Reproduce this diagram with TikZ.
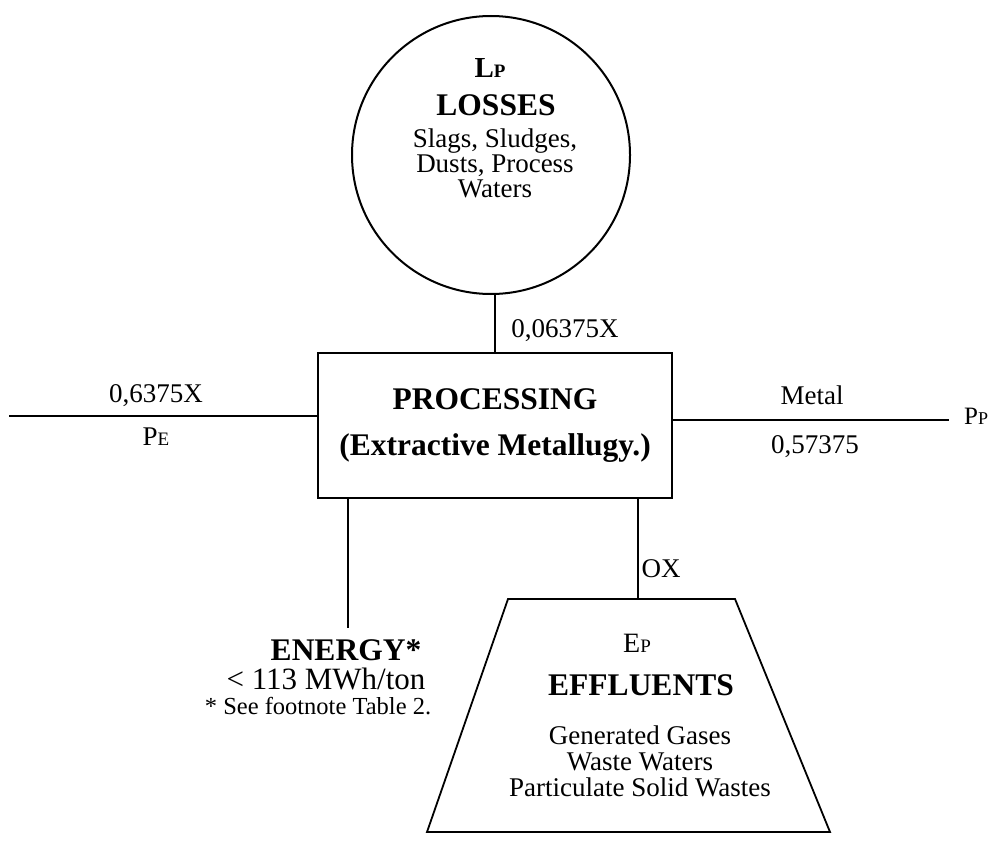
\documentclass[tikz,border=0pt]{standalone}
\usepackage{fontspec}
\setmainfont{Liberation Serif}
\usetikzlibrary{positioning}
\newcommand{\lowcap}[2]{{\fontsize{#1}{#1}\selectfont #2}}

\begin{document}
\begin{tikzpicture}[
    x=1pt, y=-1pt,
    flow/.style={draw=black, line width=1.8pt},
    lossring/.style={draw=black, line width=2pt, circle, inner sep=0pt, minimum size=278pt},
    procbox/.style={draw=black, line width=1.8pt, inner sep=0pt, minimum width=354pt, minimum height=145pt, align=center, font=\fontsize{31.5}{46}\selectfont\bfseries},
    headtxt/.style={font=\fontsize{31.5}{31.5}\selectfont\bfseries, inner sep=0pt, anchor=base},
    flowtxt/.style={font=\fontsize{27}{27}\selectfont, inner sep=0pt, anchor=base},
    notetxt/.style={font=\fontsize{24.5}{24.5}\selectfont, inner sep=0pt, anchor=base}
]
    \fill[white] (0,0) rectangle (992,840);
    \useasboundingbox (0,0) rectangle (992,840);

    % Perdite (cerchio in alto)
    \node[lossring] (loss) at (491,155) {};
    \node[headtxt, font=\fontsize{29}{29}\selectfont\bfseries] (losssym) at (490,78) {L\lowcap{19}{P}};
    \node[headtxt] (losshead) at (496,116) {LOSSES};
    \node[flowtxt] (loss1) at (495,147) {Slags, Sludges,};
    \node[flowtxt] (loss2) at (495,172) {Dusts, Process};
    \node[flowtxt] (loss3) at (495,197) {Waters};

    % Processo centrale
    \node[procbox] (proc) at (495,425.5) {PROCESSING\\(Extractive Metallugy.)};

    % Effluenti (trapezio in basso)
    \coordinate (effTL) at (508,599);
    \coordinate (effTR) at (735,599);
    \coordinate (effBR) at (830,832);
    \coordinate (effBL) at (427,832);
    \draw[flow, line join=miter] (effTL) -- (effTR) -- (effBR) -- (effBL) -- cycle;
    \node[flowtxt] (effsym) at (637,652) {\lowcap{28}{E}\lowcap{19}{P}};
    \node[headtxt] (effhead) at (641,695) {EFFLUENTS};
    \node[flowtxt] (eff1) at (640,744) {Generated Gases};
    \node[flowtxt] (eff2) at (640,770) {Waste Waters};
    \node[flowtxt] (eff3) at (640,796) {Particulate Solid Wastes};

    % Estremi liberi delle linee
    \coordinate (srcE) at (9,416);
    \coordinate (sinkP) at (949,420);
    \coordinate (enEnd) at (348,628);
    \coordinate (effIn) at (638,599);

    % Collegamenti
    \draw[flow] (proc.north) -- (proc.north |- loss.south);
    \draw[flow] (srcE) -- (srcE -| proc.west);
    \draw[flow] (sinkP -| proc.east) -- (sinkP);
    \draw[flow] (enEnd |- proc.south) -- (enEnd);
    \draw[flow] (effIn |- proc.south) -- (effIn);

    % Etichette dei flussi
    \node[flowtxt] (toplab) at (565,337) {0,06375X};
    \node[flowtxt] (inlab) at (156,402) {0,6375X};
    \node[flowtxt] (insym) at (156,445) {\lowcap{27}{P}\lowcap{19}{E}};
    \node[flowtxt] (outlab) at (812,404) {Metal};
    \node[flowtxt] (outval) at (815,453) {0,57375};
    \node[flowtxt, anchor=base west] (outsym) at (964,424) {\lowcap{25}{P}\lowcap{18}{P}};
    \node[flowtxt] (efflab) at (661,577) {OX};

    % Energia
    \node[headtxt] (enhead) at (346,660) {ENERGY*};
    \node[flowtxt, font=\fontsize{31}{31}\selectfont] (enval) at (326,689) {< 113 MWh/ton};
    \node[notetxt] (ennote) at (318,714) {* See footnote Table 2.};
\end{tikzpicture}
\end{document}
